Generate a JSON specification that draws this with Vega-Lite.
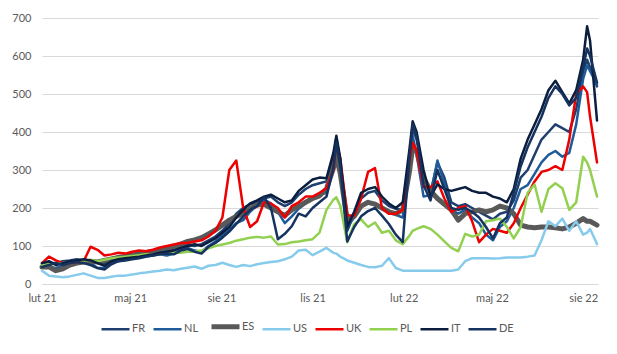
{
  "$schema": "https://vega.github.io/schema/vega-lite/v6.json",
  "width": 556,
  "height": 266,
  "autosize": "none",
  "padding": {"left": 42, "top": 18, "right": 19, "bottom": 70},
  "background": "white",
  "config": {"view": {"stroke": null}, "font": "Lato"},
  "data": {"values": [
    {"d":"2021-02-01","FR":55,"NL":50,"ES":45,"US":35,"UK":55,"PL":50,"IT":55,"DE":45},
    {"d":"2021-02-08","FR":55,"NL":45,"ES":45,"US":22,"UK":72,"PL":52,"IT":60,"DE":50},
    {"d":"2021-02-15","FR":55,"NL":42,"ES":35,"US":20,"UK":62,"PL":52,"IT":50,"DE":55},
    {"d":"2021-02-22","FR":60,"NL":48,"ES":40,"US":18,"UK":55,"PL":55,"IT":55,"DE":50},
    {"d":"2021-03-01","FR":62,"NL":55,"ES":50,"US":20,"UK":55,"PL":58,"IT":60,"DE":55},
    {"d":"2021-03-08","FR":65,"NL":58,"ES":55,"US":24,"UK":58,"PL":60,"IT":62,"DE":58},
    {"d":"2021-03-15","FR":62,"NL":60,"ES":58,"US":28,"UK":60,"PL":62,"IT":65,"DE":55},
    {"d":"2021-03-22","FR":60,"NL":55,"ES":60,"US":22,"UK":98,"PL":63,"IT":62,"DE":50},
    {"d":"2021-03-29","FR":58,"NL":42,"ES":58,"US":16,"UK":90,"PL":60,"IT":55,"DE":42},
    {"d":"2021-04-05","FR":55,"NL":42,"ES":62,"US":16,"UK":75,"PL":64,"IT":48,"DE":38},
    {"d":"2021-04-12","FR":62,"NL":55,"ES":66,"US":19,"UK":78,"PL":68,"IT":60,"DE":52},
    {"d":"2021-04-19","FR":68,"NL":60,"ES":70,"US":22,"UK":82,"PL":70,"IT":65,"DE":60},
    {"d":"2021-04-26","FR":70,"NL":65,"ES":73,"US":22,"UK":80,"PL":72,"IT":68,"DE":62},
    {"d":"2021-05-03","FR":72,"NL":68,"ES":76,"US":25,"UK":85,"PL":74,"IT":70,"DE":65},
    {"d":"2021-05-10","FR":75,"NL":70,"ES":80,"US":28,"UK":88,"PL":76,"IT":72,"DE":68},
    {"d":"2021-05-17","FR":78,"NL":72,"ES":83,"US":30,"UK":86,"PL":78,"IT":75,"DE":72},
    {"d":"2021-05-24","FR":82,"NL":75,"ES":86,"US":33,"UK":90,"PL":76,"IT":78,"DE":75},
    {"d":"2021-05-31","FR":85,"NL":78,"ES":90,"US":35,"UK":96,"PL":78,"IT":82,"DE":78},
    {"d":"2021-06-07","FR":88,"NL":75,"ES":94,"US":38,"UK":100,"PL":80,"IT":85,"DE":80},
    {"d":"2021-06-14","FR":92,"NL":80,"ES":98,"US":36,"UK":104,"PL":82,"IT":88,"DE":78},
    {"d":"2021-06-21","FR":98,"NL":90,"ES":105,"US":40,"UK":108,"PL":82,"IT":95,"DE":88},
    {"d":"2021-06-28","FR":102,"NL":95,"ES":112,"US":43,"UK":108,"PL":85,"IT":100,"DE":92},
    {"d":"2021-07-05","FR":100,"NL":88,"ES":116,"US":46,"UK":112,"PL":85,"IT":105,"DE":85},
    {"d":"2021-07-12","FR":105,"NL":85,"ES":122,"US":40,"UK":115,"PL":88,"IT":100,"DE":80},
    {"d":"2021-07-19","FR":115,"NL":100,"ES":132,"US":48,"UK":125,"PL":94,"IT":110,"DE":98},
    {"d":"2021-07-26","FR":125,"NL":112,"ES":142,"US":50,"UK":140,"PL":100,"IT":120,"DE":108},
    {"d":"2021-08-02","FR":140,"NL":128,"ES":155,"US":56,"UK":175,"PL":104,"IT":135,"DE":122},
    {"d":"2021-08-09","FR":160,"NL":142,"ES":168,"US":50,"UK":300,"PL":108,"IT":150,"DE":138},
    {"d":"2021-08-16","FR":185,"NL":160,"ES":178,"US":45,"UK":325,"PL":114,"IT":175,"DE":158},
    {"d":"2021-08-23","FR":200,"NL":168,"ES":186,"US":50,"UK":200,"PL":118,"IT":195,"DE":178},
    {"d":"2021-08-30","FR":210,"NL":190,"ES":198,"US":47,"UK":150,"PL":122,"IT":212,"DE":195},
    {"d":"2021-09-06","FR":215,"NL":208,"ES":208,"US":52,"UK":165,"PL":124,"IT":220,"DE":205},
    {"d":"2021-09-13","FR":225,"NL":222,"ES":210,"US":55,"UK":215,"PL":122,"IT":230,"DE":228},
    {"d":"2021-09-20","FR":230,"NL":212,"ES":200,"US":58,"UK":212,"PL":125,"IT":235,"DE":200},
    {"d":"2021-09-27","FR":215,"NL":190,"ES":190,"US":60,"UK":200,"PL":104,"IT":225,"DE":118},
    {"d":"2021-10-04","FR":205,"NL":160,"ES":180,"US":65,"UK":175,"PL":105,"IT":215,"DE":132},
    {"d":"2021-10-11","FR":215,"NL":178,"ES":195,"US":72,"UK":205,"PL":110,"IT":220,"DE":152},
    {"d":"2021-10-18","FR":235,"NL":198,"ES":205,"US":88,"UK":215,"PL":112,"IT":245,"DE":185},
    {"d":"2021-10-25","FR":250,"NL":212,"ES":215,"US":90,"UK":230,"PL":115,"IT":260,"DE":178},
    {"d":"2021-11-01","FR":260,"NL":228,"ES":225,"US":76,"UK":230,"PL":118,"IT":275,"DE":200},
    {"d":"2021-11-08","FR":265,"NL":235,"ES":232,"US":85,"UK":240,"PL":135,"IT":280,"DE":215},
    {"d":"2021-11-15","FR":270,"NL":240,"ES":250,"US":95,"UK":252,"PL":195,"IT":278,"DE":230},
    {"d":"2021-11-22","FR":330,"NL":315,"ES":305,"US":82,"UK":300,"PL":222,"IT":345,"DE":305},
    {"d":"2021-11-25","FR":385,"NL":360,"ES":335,"US":80,"UK":375,"PL":228,"IT":390,"DE":372},
    {"d":"2021-11-29","FR":320,"NL":300,"ES":290,"US":72,"UK":330,"PL":205,"IT":330,"DE":310},
    {"d":"2021-12-06","FR":140,"NL":150,"ES":168,"US":62,"UK":180,"PL":110,"IT":150,"DE":112},
    {"d":"2021-12-13","FR":185,"NL":175,"ES":178,"US":56,"UK":180,"PL":158,"IT":190,"DE":150},
    {"d":"2021-12-20","FR":225,"NL":205,"ES":205,"US":50,"UK":225,"PL":170,"IT":240,"DE":178},
    {"d":"2021-12-27","FR":240,"NL":215,"ES":215,"US":45,"UK":295,"PL":150,"IT":250,"DE":192},
    {"d":"2022-01-03","FR":245,"NL":210,"ES":210,"US":44,"UK":305,"PL":162,"IT":255,"DE":200},
    {"d":"2022-01-10","FR":220,"NL":200,"ES":200,"US":48,"UK":200,"PL":135,"IT":230,"DE":180},
    {"d":"2022-01-17","FR":205,"NL":190,"ES":190,"US":68,"UK":185,"PL":140,"IT":212,"DE":158},
    {"d":"2022-01-24","FR":198,"NL":182,"ES":185,"US":42,"UK":185,"PL":115,"IT":200,"DE":130},
    {"d":"2022-01-31","FR":195,"NL":175,"ES":195,"US":35,"UK":195,"PL":105,"IT":215,"DE":110},
    {"d":"2022-02-07","FR":330,"NL":320,"ES":300,"US":35,"UK":330,"PL":128,"IT":360,"DE":340},
    {"d":"2022-02-10","FR":410,"NL":390,"ES":362,"US":35,"UK":372,"PL":140,"IT":428,"DE":420},
    {"d":"2022-02-14","FR":380,"NL":340,"ES":350,"US":35,"UK":350,"PL":145,"IT":400,"DE":390},
    {"d":"2022-02-21","FR":280,"NL":230,"ES":280,"US":35,"UK":255,"PL":152,"IT":300,"DE":260},
    {"d":"2022-02-28","FR":240,"NL":235,"ES":245,"US":35,"UK":255,"PL":145,"IT":230,"DE":220},
    {"d":"2022-03-07","FR":320,"NL":325,"ES":225,"US":35,"UK":270,"PL":130,"IT":262,"DE":300},
    {"d":"2022-03-14","FR":280,"NL":265,"ES":210,"US":35,"UK":225,"PL":112,"IT":250,"DE":250},
    {"d":"2022-03-21","FR":215,"NL":195,"ES":195,"US":35,"UK":190,"PL":95,"IT":245,"DE":200},
    {"d":"2022-03-28","FR":205,"NL":185,"ES":168,"US":38,"UK":200,"PL":86,"IT":250,"DE":195},
    {"d":"2022-04-04","FR":210,"NL":195,"ES":185,"US":60,"UK":205,"PL":132,"IT":255,"DE":200},
    {"d":"2022-04-11","FR":200,"NL":175,"ES":190,"US":68,"UK":165,"PL":125,"IT":245,"DE":190},
    {"d":"2022-04-18","FR":190,"NL":160,"ES":195,"US":68,"UK":110,"PL":130,"IT":240,"DE":175},
    {"d":"2022-04-25","FR":180,"NL":130,"ES":190,"US":68,"UK":130,"PL":165,"IT":240,"DE":150},
    {"d":"2022-05-02","FR":170,"NL":115,"ES":195,"US":67,"UK":145,"PL":168,"IT":230,"DE":120},
    {"d":"2022-05-09","FR":185,"NL":150,"ES":205,"US":68,"UK":140,"PL":172,"IT":225,"DE":160},
    {"d":"2022-05-16","FR":190,"NL":165,"ES":200,"US":70,"UK":135,"PL":150,"IT":215,"DE":175},
    {"d":"2022-05-23","FR":220,"NL":200,"ES":185,"US":70,"UK":160,"PL":120,"IT":250,"DE":240},
    {"d":"2022-05-30","FR":280,"NL":250,"ES":155,"US":70,"UK":200,"PL":150,"IT":330,"DE":310},
    {"d":"2022-06-06","FR":300,"NL":260,"ES":150,"US":72,"UK":235,"PL":240,"IT":380,"DE":360},
    {"d":"2022-06-13","FR":340,"NL":290,"ES":148,"US":75,"UK":270,"PL":262,"IT":420,"DE":400},
    {"d":"2022-06-20","FR":380,"NL":320,"ES":150,"US":115,"UK":295,"PL":190,"IT":460,"DE":440},
    {"d":"2022-06-27","FR":400,"NL":340,"ES":150,"US":165,"UK":300,"PL":250,"IT":510,"DE":490},
    {"d":"2022-07-04","FR":420,"NL":350,"ES":148,"US":152,"UK":310,"PL":265,"IT":535,"DE":520},
    {"d":"2022-07-11","FR":410,"NL":335,"ES":145,"US":172,"UK":300,"PL":252,"IT":505,"DE":500},
    {"d":"2022-07-18","FR":400,"NL":345,"ES":150,"US":140,"UK":380,"PL":195,"IT":475,"DE":470},
    {"d":"2022-07-25","FR":460,"NL":420,"ES":160,"US":165,"UK":500,"PL":215,"IT":510,"DE":490},
    {"d":"2022-08-01","FR":560,"NL":540,"ES":172,"US":130,"UK":520,"PL":335,"IT":590,"DE":570},
    {"d":"2022-08-05","FR":590,"NL":575,"ES":165,"US":135,"UK":505,"PL":320,"IT":678,"DE":620},
    {"d":"2022-08-08","FR":570,"NL":560,"ES":165,"US":145,"UK":440,"PL":300,"IT":640,"DE":600},
    {"d":"2022-08-15","FR":520,"NL":525,"ES":155,"US":105,"UK":320,"PL":230,"IT":430,"DE":530}
  ]},
  "transform": [{"fold": ["FR","NL","ES","US","UK","PL","IT","DE"], "as": ["country","value"]}],
  "mark": {"type": "line", "strokeJoin": "round", "strokeCap": "round"},
  "encoding": {
    "x": {
      "field": "d", "type": "temporal",
      "scale": {"type": "utc", "domain": [{"year":2021,"month":2,"date":1,"utc":true},{"year":2022,"month":8,"date":16,"utc":true}]},
      "axis": {
        "title": null,
        "values": [
          {"year":2021,"month":2,"date":1,"utc":true},
          {"year":2021,"month":5,"date":1,"utc":true},
          {"year":2021,"month":8,"date":1,"utc":true},
          {"year":2021,"month":11,"date":1,"utc":true},
          {"year":2022,"month":2,"date":1,"utc":true},
          {"year":2022,"month":5,"date":1,"utc":true},
          {"year":2022,"month":8,"date":1,"utc":true}
        ],
        "labelExpr": "['sty','lut','mar','kwi','maj','cze','lip','sie','wrz','paź','lis','gru'][utcmonth(datum.value)] + ' ' + utcFormat(datum.value, '%y')",
        "grid": false, "ticks": false,
        "domainColor": "#d9d9d9",
        "labelColor": "#595959", "labelFontSize": 11, "labelPadding": 8,
        "labelFlush": false, "labelOverlap": false, "labelBound": false
      }
    },
    "y": {
      "field": "value", "type": "quantitative",
      "scale": {"domain": [0, 700]},
      "axis": {
        "title": null, "values": [0,100,200,300,400,500,600,700],
        "domain": false, "ticks": false,
        "gridColor": "#d9d9d9",
        "labelColor": "#595959", "labelFontSize": 11, "labelPadding": 11
      }
    },
    "color": {
      "field": "country", "type": "nominal",
      "scale": {
        "domain": ["FR","NL","ES","US","UK","PL","IT","DE"],
        "range": ["#1F3F6E","#1F5B99","#595959","#86CBEB","#EE0000","#92D050","#0B1E3F","#15335E"]
      },
      "legend": {
        "title": null, "orient": "none", "legendX": 68, "legendY": 303,
        "direction": "horizontal",
        "symbolType": "stroke", "symbolSize": 784,
        "labelColor": "#595959", "labelFontSize": 11, "labelOffset": 11,
        "columnPadding": 2,
        "encode": {"symbols": {"update": {"strokeWidth": {"signal": "datum.value === 'ES' ? 5 : 2.5"}}}}
      }
    },
    "strokeWidth": {
      "condition": {"test": "datum.country === 'ES'", "value": 5},
      "value": 2.5
    }
  }
}
